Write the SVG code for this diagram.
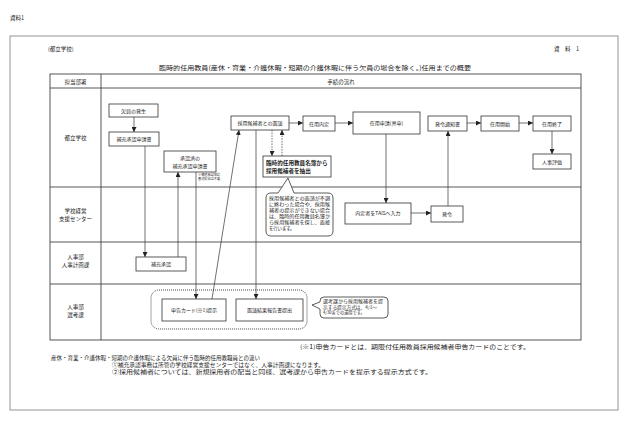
<svg xmlns="http://www.w3.org/2000/svg" width="630" height="439" viewBox="0 0 630 439">
<style>
text{font-family:"Noto Sans CJK JP","Noto Sans",sans-serif;fill:#222}
.s{font-family:"Noto Sans CJK JP",serif}
.box{fill:#fff;stroke:#333;stroke-width:0.8}
.tb{fill:none;stroke:#444;stroke-width:0.9}
.ln{fill:none;stroke:#333;stroke-width:0.7}
.dash{fill:none;stroke:#333;stroke-width:0.7;stroke-dasharray:1.5,1.2}
.bt{font-size:5px;text-anchor:middle}
.lb{font-size:5.5px;text-anchor:middle}
</style>
<defs>
<marker id="ah" viewBox="0 0 6 6" refX="6" refY="3" markerWidth="5" markerHeight="5" markerUnits="userSpaceOnUse" orient="auto">
<path d="M0,0L6,3L0,6z" fill="#222"/>
</marker>
</defs>
<rect width="630" height="439" fill="#fff"/>
<text class="s" x="10" y="20" font-size="5.5">資料1</text>
<rect x="10" y="36" width="608" height="374" fill="none" stroke="#888" stroke-width="0.9"/>
<text class="s" x="48" y="51" font-size="5.5">(都立学校)</text>
<text class="s" x="554" y="51" font-size="5.5">資　料　1</text>
<text class="s" x="315" y="70" font-size="6.2" text-anchor="middle" textLength="312" lengthAdjust="spacingAndGlyphs">臨時的任用教員(産休・育業・介護休暇・短期の介護休暇に伴う欠員の場合を除く。)任用までの概要</text>
<g id="table">
<rect class="tb" x="50" y="74" width="531" height="266"/>
<path class="tb" d="M50,88H581M50,187H581M50,242H581M50,284H581M101,74V340"/>
<text class="lb" x="75.5" y="83.5" font-size="5">担当部署</text>
<text class="lb" x="341" y="83.5" font-size="5">手続の流れ</text>
<text class="lb" x="75.5" y="140">都立学校</text>
<text class="lb" x="75.5" y="213">学校経営</text>
<text class="lb" x="75.5" y="221">支援センター</text>
<text class="lb" x="75.5" y="259">人事部</text>
<text class="lb" x="75.5" y="267">人事計画課</text>
<text class="lb" x="75.5" y="309">人事部</text>
<text class="lb" x="75.5" y="317">選考課</text>
</g>
<g id="connectors">
<path class="ln" d="M134,117V132" marker-end="url(#ah)"/>
<path class="ln" d="M145,146V257" marker-end="url(#ah)"/>
<path class="ln" d="M178,257V172" marker-end="url(#ah)"/>
<path class="ln" d="M196,172V299" marker-end="url(#ah)"/>
<path class="ln" d="M212,299L239,130" marker-end="url(#ah)"/>
<path class="ln" d="M256,130V299" marker-end="url(#ah)"/>
<path class="ln" d="M289,123H303" marker-end="url(#ah)"/>
<path class="ln" d="M335,123H353" marker-end="url(#ah)"/>
<path class="dash" d="M272,130V156" marker-end="url(#ah)"/>
<path class="dash" d="M282,156V130" marker-end="url(#ah)"/>
<path class="ln" d="M386,134V203" marker-end="url(#ah)"/>
<path class="ln" d="M411,213H431" marker-end="url(#ah)"/>
<path class="ln" d="M448,206V131" marker-end="url(#ah)"/>
<path class="ln" d="M467,123H481" marker-end="url(#ah)"/>
<path class="ln" d="M519,123H533" marker-end="url(#ah)"/>
<path class="ln" d="M552,131V154" marker-end="url(#ah)"/>
</g>
<g id="n-ketsuin"><rect class="box" x="109" y="104" width="49" height="13"/><text class="bt" x="133.5" y="112.5">欠員の発生</text></g>
<g id="n-shinsei"><rect class="box" x="109" y="132" width="50" height="14"/><text class="bt" x="134" y="141">補充承認申請書</text></g>
<g id="n-shouninzumi"><rect class="box" x="164" y="151" width="52" height="21"/><text class="bt" x="190" y="160">承認済の</text><text class="bt" x="190" y="167.5">補充承認申請書</text></g>
<text x="198" y="176" font-size="3.2">※補充承認申請</text>
<text x="198" y="180" font-size="3.2">書の提出は不要</text>
<g id="n-mendan"><rect class="box" x="231" y="116" width="58" height="14"/><text class="bt" x="260" y="124.8" font-size="4.2">採用候補者との面談</text></g>
<g id="n-naitei"><rect class="box" x="303" y="116" width="32" height="15"/><text class="bt" x="319" y="125.5">任用内定</text></g>
<g id="n-ninyoshinsei"><rect class="box" x="353" y="112" width="67" height="22"/><text class="bt" x="386.5" y="124.8">任用申請(具申)</text></g>
<g id="n-tsuchisho"><rect class="box" x="428" y="116" width="39" height="15"/><text class="bt" x="447.5" y="125.5">発令通知書</text></g>
<g id="n-kaishi"><rect class="box" x="481" y="116" width="38" height="15"/><text class="bt" x="500" y="125.5">任用開始</text></g>
<g id="n-shuryo"><rect class="box" x="533" y="116" width="38" height="15"/><text class="bt" x="552" y="125.5">任用終了</text></g>
<g id="n-hyoka"><rect class="box" x="533" y="154" width="38" height="15"/><text class="bt" x="552" y="163.5">人事評価</text></g>
<g id="n-chushutsu"><rect class="box" x="263" y="156" width="68" height="21"/><text x="266" y="165" font-size="5.6" font-weight="bold">臨時的任用教員名簿から</text><text x="266" y="172.5" font-size="5.6" font-weight="bold">採用候補者を抽出</text></g>
<g id="callout1">
<path d="M271,193H278L288,178L294,193H328Q333,193 333,198V231Q333,236 328,236H271Q266,236 266,231V198Q266,193 271,193Z" fill="#fff" stroke="#333" stroke-width="0.8"/>
<text x="269" y="199.5" font-size="4.3" textLength="61" lengthAdjust="spacingAndGlyphs">採用候補者との面談が不調</text>
<text x="269" y="205.5" font-size="4.3" textLength="61" lengthAdjust="spacingAndGlyphs">に終わった場合や、採用候</text>
<text x="269" y="211.5" font-size="4.3" textLength="61" lengthAdjust="spacingAndGlyphs">補者の提示ができない場合</text>
<text x="269" y="217.5" font-size="4.3" textLength="61" lengthAdjust="spacingAndGlyphs">は、臨時的任用教員名簿か</text>
<text x="269" y="223.5" font-size="4.3" textLength="61" lengthAdjust="spacingAndGlyphs">ら採用候補者を探し、面接</text>
<text x="269" y="229.5" font-size="4.3">を行います。</text>
</g>
<g id="n-tais"><rect class="box" x="345" y="203" width="66" height="21"/><text class="bt" x="378" y="215" font-size="4.2">内定者をTAISへ入力</text></g>
<g id="n-hatsurei"><rect class="box" x="431" y="206" width="32" height="16"/><text class="bt" x="447" y="215.8">発令</text></g>
<g id="n-hojushonin"><rect class="box" x="136" y="257" width="50" height="14"/><text class="bt" x="161" y="265.8">補充承認</text></g>
<rect x="151" y="290" width="156" height="39" rx="8" fill="none" stroke="#333" stroke-width="0.9" stroke-dasharray="1,1"/>
<g id="n-shinkoku"><rect class="box" x="162" y="299" width="64" height="22"/><text class="bt" x="194" y="311.8">申告カード(※1)提示</text></g>
<g id="n-hokoku"><rect class="box" x="236" y="299" width="67" height="22"/><text class="bt" x="269.5" y="311.8">面談結果報告書提出</text></g>
<g id="callout2">
<path d="M324,297H384Q388,297 388,301V314Q388,318 384,318H324Q320,318 320,314V309L312,305L320,302V301Q320,297 324,297Z" fill="#fff" stroke="#333" stroke-width="0.8"/>
<text x="323" y="303" font-size="4.2" textLength="60" lengthAdjust="spacingAndGlyphs">選考課から採用候補者を提</text>
<text x="323" y="308.5" font-size="4.2" textLength="54" lengthAdjust="spacingAndGlyphs">示する提示方式は、4/1～</text>
<text x="323" y="314" font-size="4.2">4/30までの運用です。</text>
</g>
<text class="s" x="300" y="349" font-size="5.8" textLength="230" lengthAdjust="spacingAndGlyphs">(※1)申告カードとは、期限付任用教員採用候補者申告カードのことです。</text>
<text class="s" x="51" y="360" font-size="5.5" textLength="209" lengthAdjust="spacingAndGlyphs">産休・育業・介護休暇・短期の介護休暇による欠員に伴う臨時的任用教職員との違い</text>
<text class="s" x="112" y="367" font-size="5.5" textLength="212" lengthAdjust="spacingAndGlyphs">①補充承認事務は所管の学校経営支援センターではなく、人事計画課になります。</text>
<text class="s" x="112" y="374" font-size="5.5" textLength="320" lengthAdjust="spacingAndGlyphs">②採用候補者については、新規採用者の配当と同様、選考課から申告カードを提示する提示方式です。</text>
</svg>
